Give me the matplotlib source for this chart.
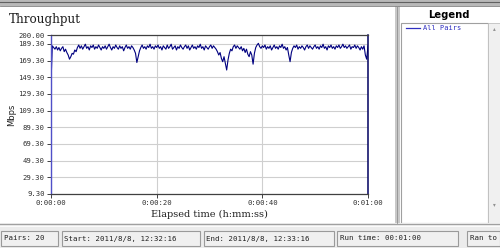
import matplotlib
matplotlib.use("Agg")
import matplotlib.pyplot as plt
from matplotlib.patches import Rectangle
import numpy as np

# ---- data ----
sample_step_s = 0.25
throughput_mbps = [
    143, 187, 185, 183, 186, 182, 185, 181, 184, 186, 180, 183, 179, 176, 171, 174, 178, 177, 182, 180,
    185, 188, 184, 187, 183, 186, 189, 184, 186, 182, 187, 185, 188, 183, 186, 184, 188, 185, 182, 186,
    184, 187, 183, 186, 189, 185, 182, 186, 184, 188, 185, 183, 187, 184, 186, 181, 185, 188, 184, 186,
    183, 187, 185, 182, 178, 167, 174, 181, 185, 188, 184, 186, 183, 187, 185, 189, 184, 186, 183, 187,
    185, 188, 184, 186, 182, 187, 185, 183, 188, 184, 186, 189, 183, 185, 187, 182, 186, 184, 188, 185,
    183, 186, 188, 184, 187, 182, 185, 188, 184, 186, 183, 187, 185, 189, 184, 186, 182, 187, 185, 183,
    186, 188, 184, 187, 185, 183, 180, 176, 179, 172, 168, 174, 166, 158, 170, 178, 183, 181, 186, 188,
    184, 187, 185, 183, 186, 181, 184, 179, 183, 177, 174, 180, 176, 165, 178, 185, 188, 190, 186, 184,
    187, 185, 188, 183, 186, 184, 187, 182, 185, 188, 184, 186, 183, 187, 185, 189, 184, 186, 182, 185,
    176, 168, 179, 184, 187, 185, 188, 183, 186, 184, 187, 185, 182, 186, 188, 184, 187, 185, 183, 186,
    188, 184, 186, 183, 187, 185, 189, 184, 186, 182, 187, 185, 188, 184, 186, 183, 187, 185, 188, 184,
    186, 189, 185, 187, 184, 186, 188, 183, 186, 185, 188, 184, 187, 185, 182, 186, 183, 187, 176, 171,
    187,
]
y_ticks = [9.30, 29.30, 49.30, 69.30, 89.30, 109.30, 129.30, 149.30, 169.30, 189.30, 200.00]
x_ticks_s = [0, 20, 40, 60]
x_tick_labels = ["0:00:00", "0:00:20", "0:00:40", "0:01:00"]
series_name = "All Pairs"
status_fields = ["Pairs: 20", "Start: 2011/8/8, 12:32:16", "End: 2011/8/8, 12:33:16",
                 "Run time: 00:01:00", "Ran to"]

W, H = 500, 248
fig = plt.figure(figsize=(W / 100, H / 100), dpi=100)
fig.patch.set_facecolor("white")

# background/window chrome in pixel coordinates
bg = fig.add_axes([0, 0, 1, 1])
bg.set_xlim(0, W)
bg.set_ylim(H, 0)
bg.axis("off")
bg.set_zorder(0)

# top grey strip
bg.add_patch(Rectangle((0, 0), W, 6, facecolor="#b8b8b8", edgecolor="none"))
bg.plot([0, W], [2, 2], color="#606060", lw=0.8)
bg.plot([0, W], [6, 6], color="#808080", lw=0.6)
# vertical divider
bg.add_patch(Rectangle((395, 6), 5, 217, facecolor="#c8c8c8", edgecolor="none"))
bg.plot([397, 397], [6, 223], color="#909090", lw=0.6)
# legend panel
bg.text(449, 15.5, "Legend", ha="center", va="center", fontsize=7.2,
        fontweight="bold", family="DejaVu Sans")
bg.add_patch(Rectangle((400.5, 23), 87, 200, facecolor="white", edgecolor="#a0a0a0", lw=0.8))
bg.add_patch(Rectangle((488, 23), 12, 200, facecolor="#f0f0f0", edgecolor="#c0c0c0", lw=0.6))
bg.text(494, 29, "\u25b4", ha="center", va="center", fontsize=4, color="#909090")
bg.text(494, 205, "\u25be", ha="center", va="center", fontsize=4, color="#909090")
bg.plot([406, 420], [28, 28], color="#3030c0", lw=0.9)
bg.text(423, 28.5, series_name, ha="left", va="center", fontsize=5.0,
        color="#3030c0", family="DejaVu Sans Mono")

# status bar
bg.add_patch(Rectangle((0, 223), W, H - 223, facecolor="#ececec", edgecolor="none"))
bg.plot([0, W], [223.5, 223.5], color="#a0a0a0", lw=0.8)
bg.plot([0, W], [225.5, 225.5], color="#ffffff", lw=0.6)
boxes = [(1, 58), (62, 200), (204, 334), (337, 458), (467, 500)]
for (x0, x1), txt in zip(boxes, status_fields):
    bg.add_patch(Rectangle((x0, 230.5), x1 - x0, 15, facecolor="#f0f0f0",
                           edgecolor="#9a9a9a", lw=0.8))
    bg.text(x0 + 2.5, 238.5, txt, ha="left", va="center", fontsize=5.3,
            family="DejaVu Sans Mono", color="#202020")

# title
bg.text(9, 20, "Throughput", ha="left", va="center", fontsize=8.6,
        family="DejaVu Serif", color="#202020")

# ---- main plot ----
left, right, top, bottom = 51, 368, 35, 194
ax = fig.add_axes([left / W, (H - bottom) / H, (right - left) / W, (bottom - top) / H])
ax.set_zorder(1)
ax.set_facecolor("white")

t = np.arange(len(throughput_mbps)) * sample_step_s
ax.plot(t, throughput_mbps, color="#000080", lw=0.8)

ax.set_xlim(0, 60)
ax.set_ylim(9.30, 200.0)
ax.set_yticks(y_ticks)
ax.set_yticklabels([f"{v:.2f}" for v in y_ticks], family="DejaVu Sans Mono",
                   fontsize=5.2, color="#303030")
ax.set_xticks(x_ticks_s)
ax.set_xticklabels(x_tick_labels, family="DejaVu Sans Mono", fontsize=5.2, color="#303030")
ax.tick_params(axis="both", length=3, width=0.7, color="#404040", pad=1.5)
ax.grid(True, color="#cfcfcf", lw=0.8)
ax.set_axisbelow(True)

ax.spines["left"].set_color("#5050c8")
ax.spines["left"].set_linewidth(1.0)
ax.spines["right"].set_color("#000060")
ax.spines["right"].set_linewidth(1.1)
ax.spines["top"].set_color("#404040")
ax.spines["top"].set_linewidth(0.9)
ax.spines["bottom"].set_color("#404040")
ax.spines["bottom"].set_linewidth(0.9)

ax.set_ylabel("Mbps", family="DejaVu Sans", fontsize=6.0, labelpad=2, color="#202020")
ax.set_xlabel("Elapsed time (h:mm:ss)", family="DejaVu Serif", fontsize=7.0,
              labelpad=3, color="#202020")
ax.xaxis.set_label_coords(0.5, -0.10)

fig.savefig("out.png", dpi=100)
